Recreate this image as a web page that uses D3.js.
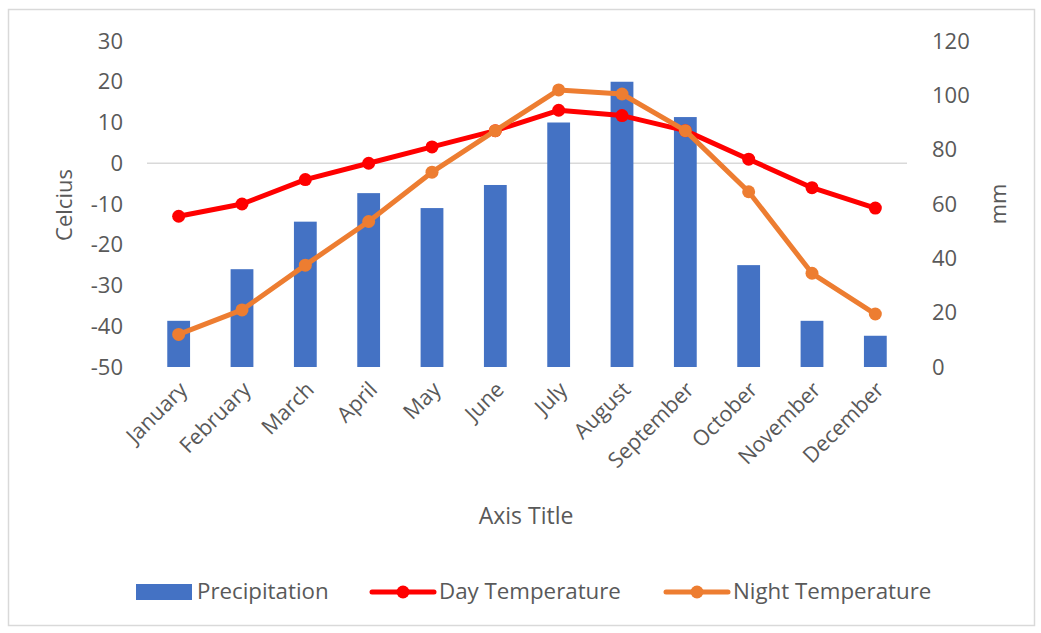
<!DOCTYPE html>
<html><head><meta charset="utf-8">
<script src="https://cdn.jsdelivr.net/npm/d3@7"></script>
<style>body{margin:0;background:#fff;} text{font-family:"Open Sans", Lato, sans-serif;}</style>
</head><body>
<svg id="c" width="1041" height="633"></svg>
<script>
const months = ["January","February","March","April","May","June","July","August","September","October","November","December"];
const precipitation = [17,36,53.5,64,58.5,67,90,105,92,37.5,17,11.5];
const dayTemp = [-13,-10,-4,0,4,8,13,11.7,8,1,-6,-11];
const nightTemp = [-42,-36,-25,-14.3,-2.2,8,18,17,8,-7,-27,-37];
const leftTicks = [-50,-40,-30,-20,-10,0,10,20,30];
const rightTicks = [0,20,40,60,80,100,120];

const svg = d3.select("#c");
const grey = "#595959";
const FONT = "'Open Sans', Lato, sans-serif";
svg.append("rect").attr("x",8.5).attr("y",9.5).attr("width",1026).attr("height",616)
  .attr("fill","#fff").attr("stroke","#d9d9d9").attr("stroke-width",1.5);

const x = d3.scaleBand().domain(months).range([147,907]);
const yL = d3.scaleLinear().domain([-50,30]).range([367,41]);
const yR = d3.scaleLinear().domain([0,120]).range([367,41]);
const cx = d => x(d) + x.bandwidth()/2;
const bw = x.bandwidth()*0.36;

svg.append("line").attr("x1",147).attr("x2",907).attr("y1",yL(0)).attr("y2",yL(0))
  .attr("stroke","#d9d9d9").attr("stroke-width",1.5);

const la = svg.append("g").attr("transform","translate(129,0)")
  .call(d3.axisLeft(yL).tickValues(leftTicks).tickFormat(d=>String(d)).tickSize(0).tickPadding(6));
la.select(".domain").remove();
la.selectAll("text").attr("fill",grey).style("font-size","22px").style("font-family",FONT);

const ra = svg.append("g").attr("transform","translate(926,0)")
  .call(d3.axisRight(yR).tickValues(rightTicks).tickFormat(d=>String(d)).tickSize(0).tickPadding(6));
ra.select(".domain").remove();
ra.selectAll("text").attr("fill",grey).style("font-size","22px").style("font-family",FONT);

svg.selectAll("rect.bar").data(months).enter().append("rect").attr("class","bar")
  .attr("x",d=>cx(d)-bw/2).attr("width",bw)
  .attr("y",(d,i)=>yR(precipitation[i])).attr("height",(d,i)=>yR(0)-yR(precipitation[i]))
  .attr("fill","#4472c4");

function series(vals,color){
  const line = d3.line().x((d,i)=>cx(months[i])).y(d=>yL(d));
  svg.append("path").datum(vals).attr("d",line).attr("fill","none")
    .attr("stroke",color).attr("stroke-width",5).attr("stroke-linejoin","round");
  svg.selectAll(null).data(vals).enter().append("circle")
    .attr("cx",(d,i)=>cx(months[i])).attr("cy",d=>yL(d)).attr("r",6.5).attr("fill",color);
}
series(dayTemp,"#ff0000");
series(nightTemp,"#ed7d31");

const xa = svg.append("g").attr("transform","translate(0,367)")
  .call(d3.axisBottom(x).tickSize(0).tickPadding(0));
xa.select(".domain").remove();
xa.selectAll("text").attr("fill",grey).style("font-size","21.5px").style("font-family",FONT)
  .attr("text-anchor","end").attr("dy",null).attr("y",0)
  .attr("transform","translate(10,24) rotate(-45)");

svg.append("text").attr("x",526).attr("y",524).attr("text-anchor","middle")
  .attr("fill",grey).style("font-size","23px").text("Axis Title");
svg.append("text").attr("transform","translate(72,205) rotate(-90)").attr("text-anchor","middle")
  .attr("fill",grey).style("font-size","22px").text("Celcius");
svg.append("text").attr("transform","translate(1006,204) rotate(-90)").attr("text-anchor","middle")
  .attr("fill",grey).style("font-size","22px").text("mm");

const lg = svg.append("g");
lg.append("rect").attr("x",136).attr("y",584).attr("width",56).attr("height",16).attr("fill","#4472c4");
lg.append("text").attr("x",197).attr("y",599).attr("fill",grey).style("font-size","22.3px").text("Precipitation");
[[372,"#ff0000","Day Temperature"],[666,"#ed7d31","Night Temperature"]].forEach(([lx,c,t])=>{
  lg.append("line").attr("x1",lx).attr("x2",lx+62).attr("y1",592).attr("y2",592).attr("stroke",c).attr("stroke-width",5).attr("stroke-linecap","round");
  lg.append("circle").attr("cx",lx+31).attr("cy",592).attr("r",6.5).attr("fill",c);
  lg.append("text").attr("x",lx+67).attr("y",599).attr("fill",grey).style("font-size","22.3px").text(t);
});
</script>
</body></html>
